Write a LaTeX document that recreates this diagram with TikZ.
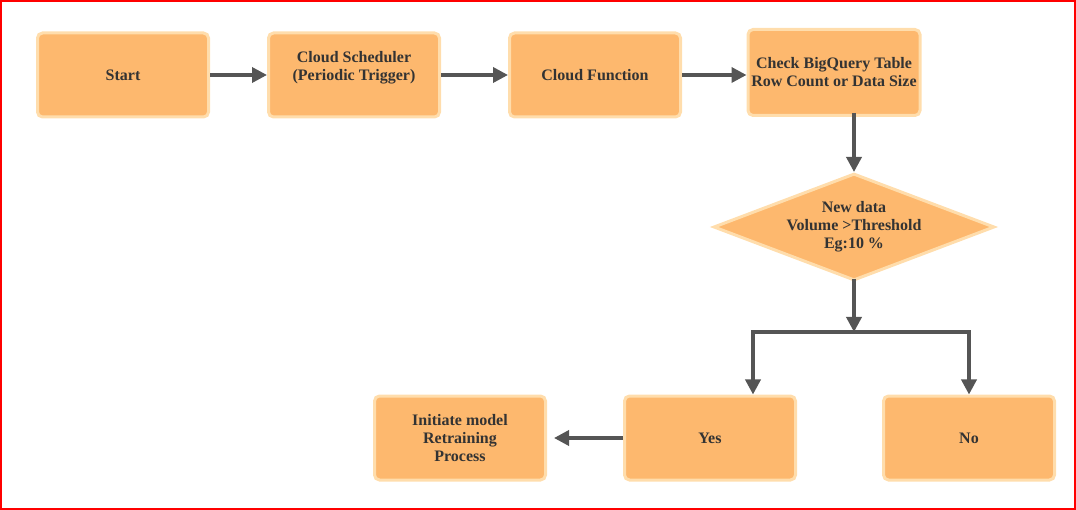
\documentclass[tikz,border=0pt]{standalone}
\usepackage{fontspec}
\setmainfont{Liberation Serif}
\usetikzlibrary{arrows.meta,shapes.geometric}
\definecolor{boxfill}{RGB}{253,184,110}
\definecolor{boxline}{RGB}{255,221,172}
\definecolor{ink}{RGB}{51,51,51}
\definecolor{wire}{RGB}{85,85,85}

\begin{document}
\begin{tikzpicture}[x=1pt, y=-1pt,
    box/.style={draw=boxline, fill=boxfill, line width=3pt, rounded corners=5pt,
        minimum width=171pt, minimum height=84pt, align=center, text=ink,
        font=\fontsize{16}{18}\selectfont\bfseries},
    decision/.style={diamond, draw=boxline, fill=boxfill, line width=3pt, aspect=2.6,
        inner sep=0pt, minimum width=281pt, minimum height=107pt, align=center, text=ink,
        font=\fontsize{16}{18}\selectfont\bfseries},
    arrow/.style={draw=wire, line width=3.5pt, -{Triangle[length=15pt,width=15pt]}},
    wire/.style={draw=wire, line width=3.5pt}]
    \useasboundingbox (0,0) rectangle (1076,510);
    \draw[red, line width=2pt] (1,1) rectangle (1075,509);

    \node[box] (start) at (123, 75) {Start};
    \node[box] (sched) at (354, 75) {Cloud Scheduler\\(Periodic Trigger)\\~};
    \node[box] (func) at (595, 75) {Cloud Function};
    \node[box, minimum height=86pt] (check) at (834, 72.5) {Check BigQuery Table\\Row Count or Data Size};
    \node[decision] (thresh) at (854, 227) {New data\\Volume >Threshold\\Eg:10 \%};
    \node[box] (yes) at (710, 438) {Yes};
    \node[box] (no) at (969, 438) {No};
    \node[box] (retrain) at (460, 438) {Initiate model\\Retraining\\Process};

    \coordinate (split) at (854, 332);
    \coordinate (yesdrop) at (753, 332);

    \draw[arrow] (start) -- (sched);
    \draw[arrow] (sched) -- (func);
    \draw[arrow] (func) -- (check.west |- func);
    \draw[arrow] ([yshift=4pt]check.south -| thresh.north) -- (thresh.north);
    \draw[arrow] ([yshift=3pt]thresh.south) -- (split);
    \draw[wire] ([xshift=-1.75pt]yesdrop) -- ([xshift=1.75pt]split -| no.north);
    \draw[arrow] (yesdrop) -- (yesdrop |- yes.north);
    \draw[arrow] (split -| no.north) -- (no.north);
    \draw[arrow] (yes) -- ([xshift=7pt]retrain.east);
\end{tikzpicture}
\end{document}
